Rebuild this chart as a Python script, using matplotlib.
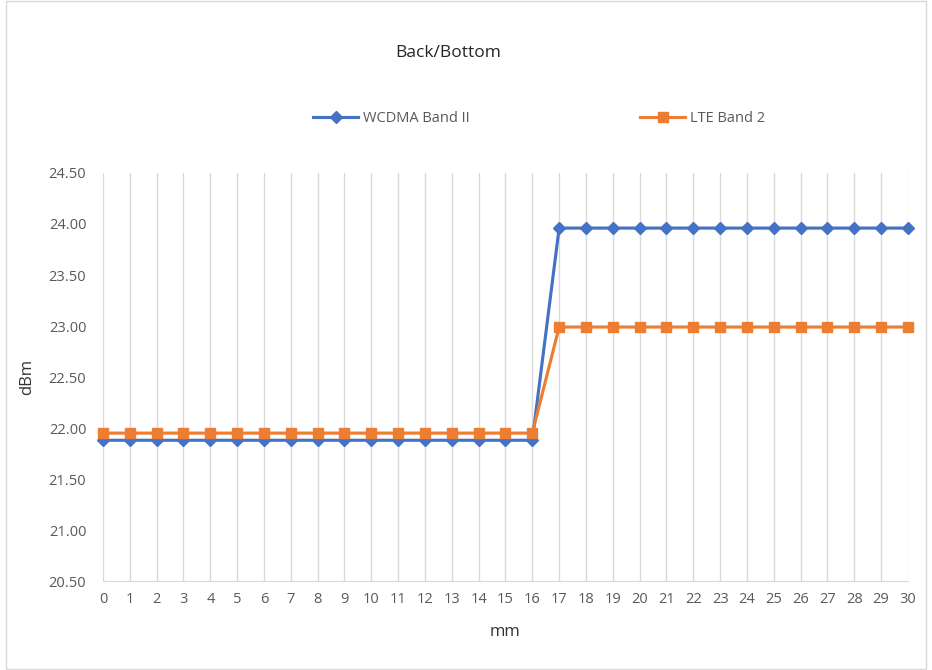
import matplotlib.pyplot as plt
from matplotlib.patches import Rectangle

# data
mm = list(range(0, 31))
wcdma_band2 = [21.88] * 17 + [23.96] * 14
lte_band2 = [21.95] * 17 + [22.99] * 14
y_ticks = [20.5, 21.0, 21.5, 22.0, 22.5, 23.0, 23.5, 24.0, 24.5]

plt.rcParams['font.family'] = ['Open Sans', 'DejaVu Sans']

fig = plt.figure(figsize=(9.32, 6.70), dpi=100)
ax = fig.add_axes([0.1105, 0.1328, 0.8637, 0.609])

ax.plot(mm, wcdma_band2, color='#4472C4', marker='D', markersize=6, linewidth=2.25,
        label='WCDMA Band II', clip_on=False)
ax.plot(mm, lte_band2, color='#ED7D31', marker='s', markersize=7, linewidth=2.25,
        label='LTE Band 2', clip_on=False)

ax.set_xlim(0, 30)
ax.set_ylim(20.5, 24.5)
ax.set_xticks(mm)
ax.set_yticks(y_ticks)
ax.set_yticklabels([f'{v:.2f}' for v in y_ticks])
ax.tick_params(axis='both', length=0, labelsize=10.5, labelcolor='#595959')
ax.tick_params(axis='x', pad=8)
ax.tick_params(axis='y', pad=12)

ax.grid(axis='x', color='#D9D9D9', linewidth=1)
ax.set_axisbelow(True)
for s in ['top', 'right', 'left']:
    ax.spines[s].set_visible(False)
ax.spines['bottom'].set_color('#D9D9D9')

ax.set_xlabel('mm', fontsize=12, color='#333333', labelpad=12)
ax.set_ylabel('dBm', fontsize=12, color='#333333', labelpad=10)

fig.text(448 / 932, 1 - 53 / 670, 'Back/Bottom', ha='center', va='center', fontsize=12.5, color='#262626')

ax.legend(loc='center', bbox_to_anchor=((539 - 103) / 805, 1 + (173 - 119) / 408),
          ncol=2, frameon=False, fontsize=10.5, labelcolor='#595959',
          columnspacing=11.7, handlelength=3.1, handletextpad=0.3)

fig.patches.append(Rectangle((6 / 932, 0.002), 1 - 12 / 932, 0.996, transform=fig.transFigure,
                             fill=False, edgecolor='#D9D9D9', linewidth=1))

fig.savefig('out.png', dpi=100)
